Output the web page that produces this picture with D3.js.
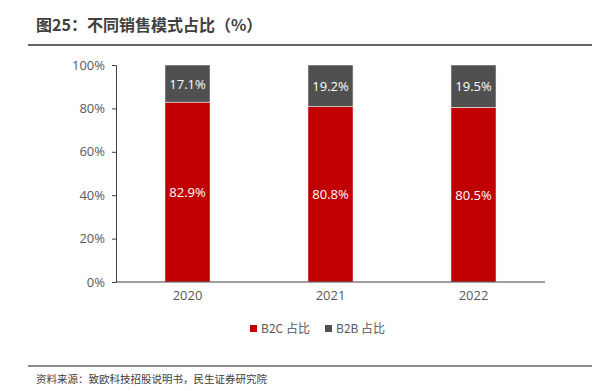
<!DOCTYPE html>
<html>
<head>
<meta charset="utf-8">
<script src="https://cdn.jsdelivr.net/npm/d3@7"></script>
<style>
  body { margin: 0; background: #fff; }
  text { font-family: "Noto Sans CJK SC", "Open Sans", sans-serif; }
</style>
</head>
<body>
<svg id="chart" width="612" height="391"></svg>
<script>
var years = ["2020", "2021", "2022"];
var b2c = [82.9, 80.8, 80.5];
var b2b = [17.1, 19.2, 19.5];
var yTicks = [0, 20, 40, 60, 80, 100];
var seriesNames = ["B2C 占比", "B2B 占比"];
var colors = ["#c00000", "#505050"];

var svg = d3.select("#chart");

// title + rules
svg.append("text").attr("x", 36).attr("y", 31)
  .style("font-size", "16px").style("font-weight", "bold").style("fill", "#404040")
  .text("图25：不同销售模式占比（%）");
svg.append("line").attr("x1", 28).attr("x2", 592).attr("y1", 45).attr("y2", 45)
  .style("stroke", "#666").style("stroke-width", 2);
svg.append("line").attr("x1", 28).attr("x2", 592).attr("y1", 366).attr("y2", 366)
  .style("stroke", "#666").style("stroke-width", 1.5);
svg.append("text").attr("x", 36).attr("y", 383)
  .style("font-size", "10.5px").style("fill", "#404040")
  .text("资料来源：致欧科技招股说明书，民生证券研究院");

var x = d3.scaleBand().domain(years).range([116, 545]).paddingInner(0.685).paddingOuter(0.3425);
var y = d3.scaleLinear().domain([0, 100]).range([282, 65]);

var yAxis = svg.append("g").attr("transform", "translate(116,0)")
  .call(d3.axisLeft(y).tickValues(yTicks).tickSize(4).tickFormat(function(d) { return d + "%"; }));
yAxis.select(".domain").style("stroke", "#404040");
yAxis.selectAll(".tick line").style("stroke", "#404040");
yAxis.selectAll("text").style("font-size", "13px").style("fill", "#595959")
  .style("font-family", "'Open Sans', sans-serif").attr("x", -11);

var data = years.map(function(yr, i) { return { year: yr, b2c: b2c[i], b2b: b2b[i] }; });
var stack = d3.stack().keys(["b2c", "b2b"])(data);

stack.forEach(function(layer, li) {
  svg.append("g").selectAll("rect").data(layer).enter().append("rect")
    .attr("x", function(d) { return x(d.data.year); })
    .attr("width", x.bandwidth())
    .attr("y", function(d) { return y(d[1]); })
    .attr("height", function(d) { return y(d[0]) - y(d[1]); })
    .style("fill", colors[li])
    .style("stroke", "#fff").style("stroke-width", 0.5);
  svg.append("g").selectAll("text").data(layer).enter().append("text")
    .attr("x", function(d) { return x(d.data.year) + x.bandwidth() / 2; })
    .attr("y", function(d) { return y((d[0] + d[1]) / 2) + 5; })
    .attr("text-anchor", "middle")
    .style("font-size", "13px").style("fill", "#fff")
    .style("font-family", "'Open Sans', sans-serif")
    .text(function(d) { return (d[1] - d[0]).toFixed(1) + "%"; });
});

var xAxis = svg.append("g").attr("transform", "translate(0,282)")
  .call(d3.axisBottom(x).tickSize(0).tickPadding(9));
xAxis.select(".domain").attr("d", "M116,0H545").style("stroke", "#404040");
xAxis.selectAll("text").style("font-size", "13px").style("fill", "#595959")
  .style("font-family", "'Open Sans', sans-serif");

// legend
var legend = svg.append("g");
var lx = [250, 325];
seriesNames.forEach(function(name, i) {
  legend.append("rect").attr("x", lx[i]).attr("y", 325).attr("width", 7).attr("height", 7)
    .style("fill", colors[i]);
  legend.append("text").attr("x", lx[i] + 11).attr("y", 333)
    .style("font-size", "12px").style("fill", "#595959")
    .text(name);
});
</script>
</body>
</html>
